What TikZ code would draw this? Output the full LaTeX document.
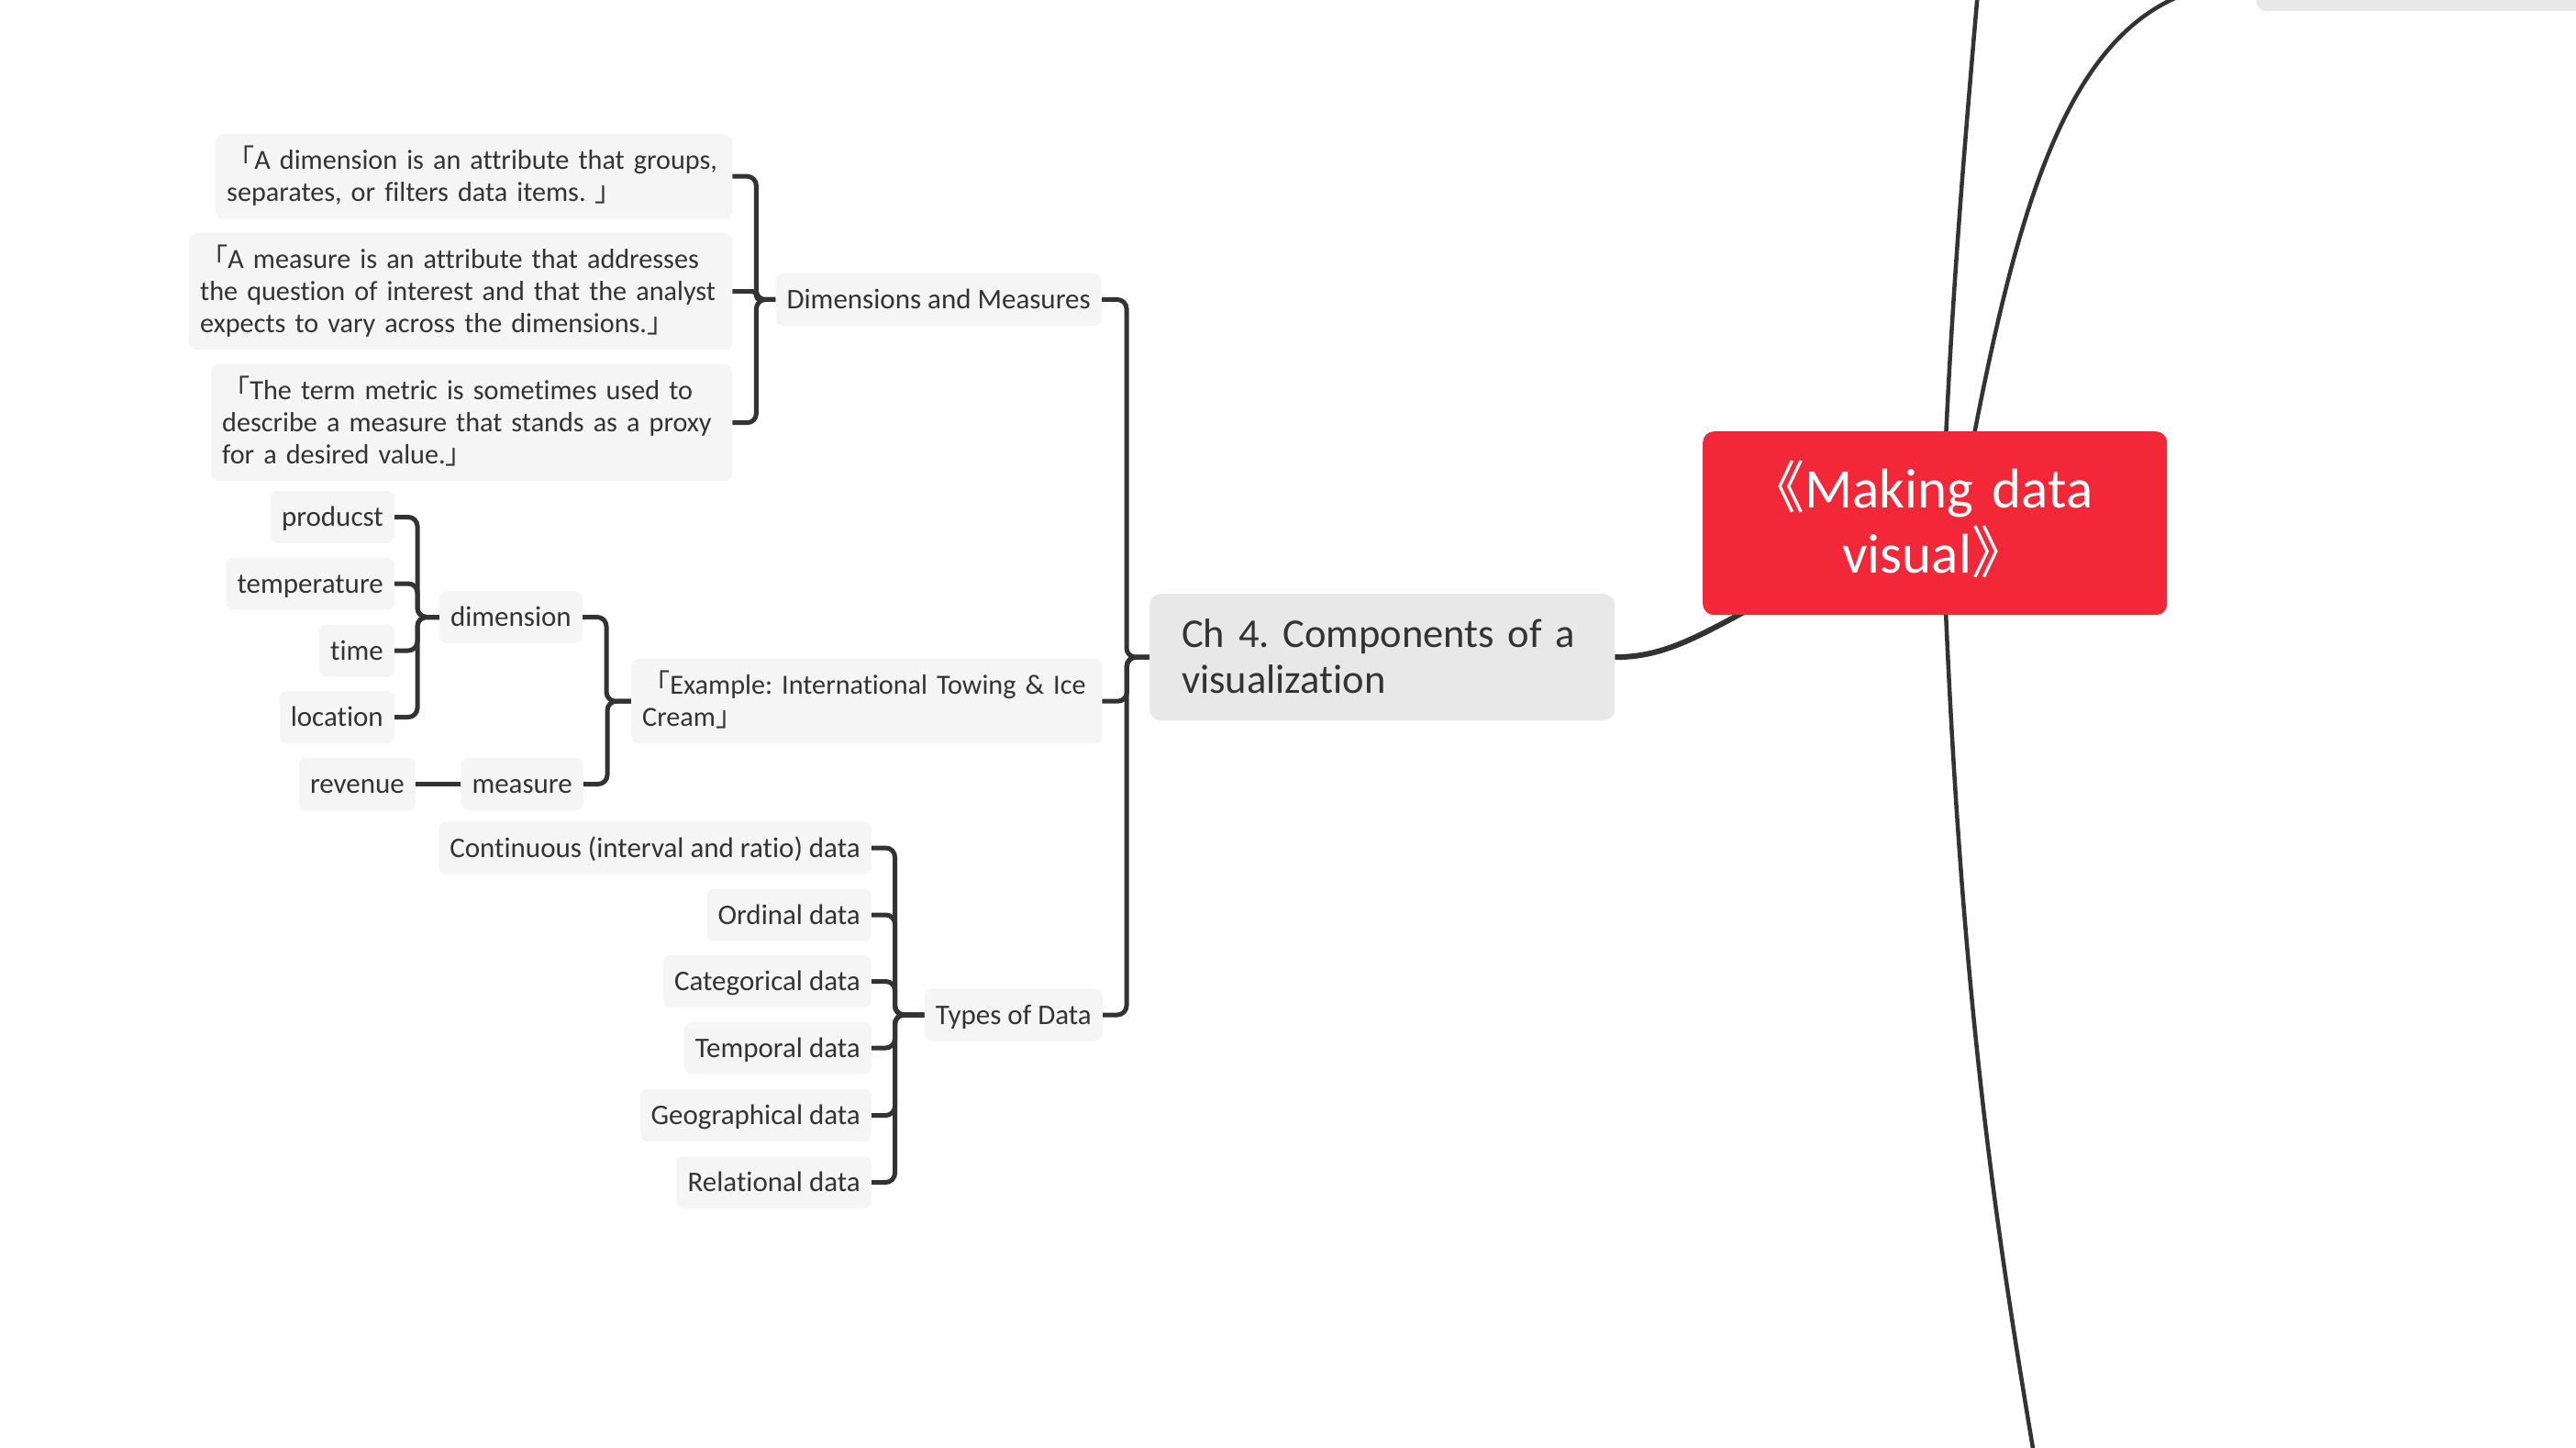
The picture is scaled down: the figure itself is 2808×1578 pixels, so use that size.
\documentclass[tikz,border=0pt]{standalone}
\usepackage{fontspec}
\setmainfont{Carlito}[Ligatures=NoCommon]
\newfontfamily\cjkfont{Noto Sans CJK JP}
\usetikzlibrary{calc}
\definecolor{lnc}{HTML}{333333}
\definecolor{txc}{HTML}{333333}
\definecolor{lbox}{HTML}{F5F5F5}
\definecolor{gbox}{HTML}{E8E8E8}
\definecolor{rbox}{HTML}{F22838}
\newcommand{\cjkL}{{\cjkfont 「}}
\newcommand{\cjkR}{{\cjkfont 」}}
\newcommand{\dblL}{{\cjkfont\kern-0.5em《}}
\newcommand{\dblR}{{\cjkfont 》}}
\pgfdeclarelayer{bg}
\pgfdeclarelayer{lines}
\pgfsetlayers{bg,lines,main}
\begin{document}
\frenchspacing
\begin{tikzpicture}[x=1pt,y=-1pt,
  conn/.style={draw=lnc, line width=5pt, rounded corners=10pt},
  rootline/.style={draw=lnc, line width=4.5pt},
  leaf/.style={rectangle, rounded corners=8pt, fill=lbox, text=txc,
    font=\fontsize{31}{35}\selectfont, inner xsep=12pt, inner ysep=18.5pt,
    text height=20pt, text depth=0pt},
  leafr/.style={leaf, anchor=east},
  quotebox/.style={leaf, align=left, anchor=north west, font=\fontsize{30.2}{35}\selectfont},
  chbox/.style={rectangle, rounded corners=12pt, fill=gbox, text=txc,
    font=\fontsize{44.5}{50}\selectfont, inner xsep=35pt, inner ysep=30pt,
    text height=28pt, text depth=50pt, align=left, anchor=north west},
  rootbox/.style={rectangle, rounded corners=12pt, fill=rbox, text=white,
    font=\fontsize{61}{71}\selectfont, inner xsep=20pt, inner ysep=45.5pt,
    text height=38pt, text depth=71pt, align=center, anchor=north west}
]
\useasboundingbox (0,0) rectangle (2808,1578);
\begin{pgfonlayer}{bg}
\fill[white] (0,0) rectangle (2808,1578);
\end{pgfonlayer}

% root and main topic
\node[rootbox, text width=466pt] (root) at (1856,470) {\dblL Making data\\visual\dblR};
\node[chbox, text width=437pt] (ch4) at (1253,647) {\mbox{Ch 4. Components of a}\\\mbox{visualization}};
\node[rectangle, fill=gbox, rounded corners=12pt, minimum width=441pt,
  minimum height=64pt, inner sep=0pt, anchor=north west] (tr) at (2459,-52) {};

% level 2
\node[leafr] (dm) at (1201,326.5) {Dimensions and Measures};
\node[quotebox, text width=489pt, text depth=35pt] (ex) at (688,718)
  {\mbox{\cjkL Example: International Towing \& Ice}\\\mbox{Cream\cjkR}};
\node[leafr] (types) at (1202,1106) {Types of Data};

% quotes
\node[quotebox, text width=539pt, text depth=35pt] (q1) at (235,146)
  {\mbox{\cjkL A dimension is an attribute that groups,}\\\mbox{separates, or filters data items. \cjkR}};
\node[quotebox, text width=568pt, text depth=70pt] (q2) at (206,254)
  {\mbox{\cjkL A measure is an attribute that addresses}\\\mbox{the question of interest and that the analyst}\\\mbox{expects to vary across the dimensions.\cjkR}};
\node[quotebox, text width=544pt, text depth=70pt] (q3) at (230,397)
  {\mbox{\cjkL The term metric is sometimes used to}\\\mbox{describe a measure that stands as a proxy}\\\mbox{for a desired value.\cjkR}};

% example subtree
\node[leafr] (dimn) at (635,672.5) {dimension};
\node[leafr] (meas) at (636,854.5) {measure};
\node[leafr] (rev) at (453,854.5) {revenue};
\node[leafr] (prod) at (430,563.5) {producst};
\node[leafr] (temp) at (430,636) {temperature};
\node[leafr] (time) at (430,709) {time};
\node[leafr] (loc) at (430,781.5) {location};

% types of data
\node[leafr] (cont) at (950,924) {Continuous (interval and ratio) data};
\node[leafr] (ord) at (950,997) {Ordinal data};
\node[leafr] (cat) at (950,1069.5) {Categorical data};
\node[leafr] (tmp) at (950,1142) {Temporal data};
\node[leafr] (geo) at (950,1215.5) {Geographical data};
\node[leafr] (rel) at (950,1288.5) {Relational data};

\coordinate (upA) at (2168,-150);
\coordinate (downC) at (2240,1720);

\begin{pgfonlayer}{lines}
% root curves
\draw[rootline] ([xshift=8pt]root.center) .. controls (2127,300) and (2147,100) .. (upA);
\draw[rootline] ([xshift=25pt]root.center) .. controls (2200,200) and (2260,-20) .. (tr.west);
\draw[rootline] ([xshift=8pt]root.center) .. controls (2138,1150) and (2186,1400) .. (downC);
\draw[draw=lnc, line width=6pt] (ch4.east) .. controls (1850,716) and (1890,655) .. (root.center);
% ch4 bracket
\draw[conn] (dm.east) -- ++(27,0) |- (ch4.west);
\draw[conn] (ex.east) -- ++(27,0) |- (ch4.west);
\draw[conn] (types.east) -- ++(26,0) |- (ch4.west);
% D&M bracket
\draw[conn] (q1.east) -- ++(26,0) |- (dm.west);
\draw[conn, rounded corners=4pt] (q2.east) -- ++(26,0) |- (dm.west);
\draw[conn] (q3.east) -- ++(26,0) |- (dm.west);
% example bracket
\draw[conn] (dimn.east) -- ++(26,0) |- (ex.west);
\draw[conn] (meas.east) -- ++(26,0) |- (ex.west);
% dimension bracket
\draw[conn] (prod.east) -- ++(25,0) |- (dimn.west);
\draw[conn] (temp.east) -- ++(25,0) |- (dimn.west);
\draw[conn] (time.east) -- ++(25,0) |- (dimn.west);
\draw[conn] (loc.east) -- ++(25,0) |- (dimn.west);
% measure
\draw[conn] (meas.west) -- (rev.east);
% types bracket
\draw[conn] (cont.east) -- ++(25.5,0) |- (types.west);
\draw[conn] (ord.east) -- ++(25.5,0) |- (types.west);
\draw[conn] (cat.east) -- ++(25.5,0) |- (types.west);
\draw[conn] (tmp.east) -- ++(25.5,0) |- (types.west);
\draw[conn] (geo.east) -- ++(25.5,0) |- (types.west);
\draw[conn] (rel.east) -- ++(25.5,0) |- (types.west);
\end{pgfonlayer}
\end{tikzpicture}
\end{document}
